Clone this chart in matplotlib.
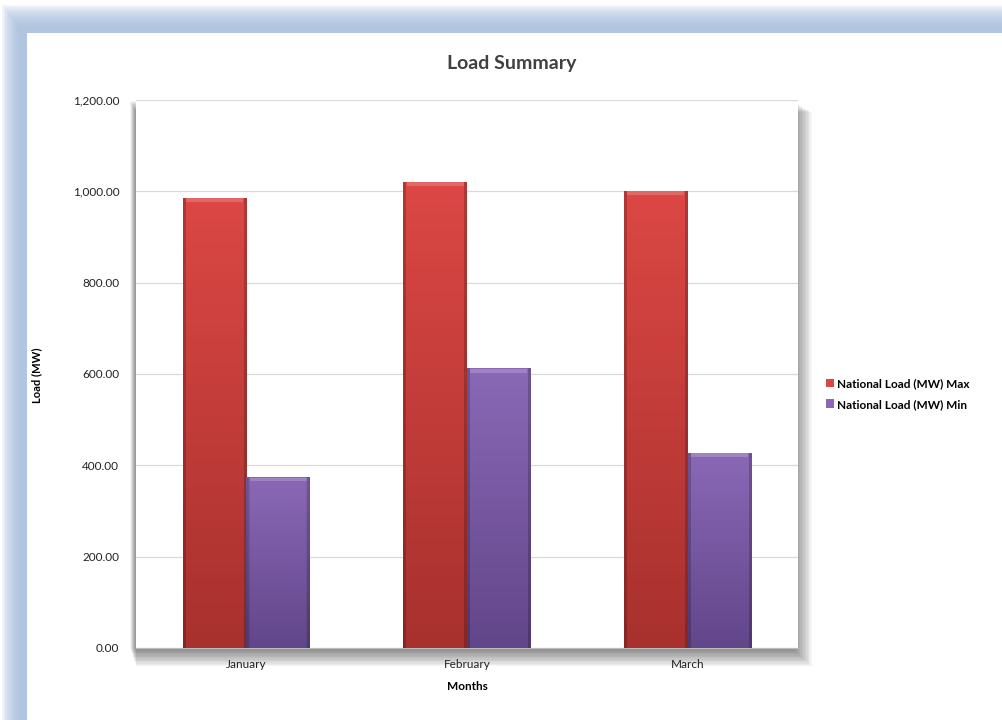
import numpy as np
import matplotlib.pyplot as plt
from matplotlib.patches import Rectangle

months = ["January", "February", "March"]
load_max = [985, 1020, 1000]
load_min = [373, 611, 426]
series_names = ["National Load (MW) Max", "National Load (MW) Min"]

plt.rcParams['font.family'] = ['Lato', 'DejaVu Sans']

W, H = 1003, 720
fig = plt.figure(figsize=(W / 100, H / 100), dpi=100)
fig.patch.set_facecolor("white")

# background frame: soft bluish border around a white card
bg = fig.add_axes([0, 0, 1, 1])
bg.set_xlim(0, W)
bg.set_ylim(H, 0)
bg.axis("off")
for i in range(12):
    bg.add_patch(Rectangle((2 + i * 1.6, 5 + i * 2.0), W, H, color="#a9c0de", alpha=0.16, lw=0))
bg.add_patch(Rectangle((27, 33), W, H, color="white", lw=0))

ax = fig.add_axes([136 / W, 1 - 648 / H, (798 - 136) / W, (648 - 100) / H])

# soft drop shadow behind the plot area
for k in range(14):
    off = 1 + k * 1.1
    bg.add_patch(Rectangle((136 - 6 + off * 0.4, 100 + off * 0.8), 662 + off * 0.9, 548 + off * 0.4,
                           color="black", alpha=0.04, lw=0, zorder=1))
bg.add_patch(Rectangle((136, 100), 662, 548, color="white", lw=0, zorder=2))
ax.set_zorder(3)
ax.patch.set_alpha(0)

x = np.arange(len(months))
bw = 0.288

def shade(c_top, c_bot, n=60):
    c_top = np.array(plt.matplotlib.colors.to_rgb(c_top))
    c_bot = np.array(plt.matplotlib.colors.to_rgb(c_bot))
    t = np.linspace(0, 1, n)[:, None, None]
    img = c_top * (1 - t) + c_bot * t
    img = np.repeat(img, 20, axis=1)
    edge = np.ones(20)
    edge[:1] = 0.8
    edge[-1:] = 0.8
    img = img * edge[None, :, None]
    return np.clip(img, 0, 1)

colors = [("#db4744", "#a8312e"), ("#8a68b6", "#62468a")]
for vals, off, (ct, cb), name in zip([load_max, load_min], [-bw / 2, bw / 2], colors, series_names):
    bars = ax.bar(x + off, vals, bw, color=ct, label=name, zorder=2)
    for b in bars:
        x0, w, h = b.get_x(), b.get_width(), b.get_height()
        ax.imshow(shade(ct, cb), extent=[x0, x0 + w, 0, h], aspect="auto", zorder=3)
        ax.fill_between([x0 + w * 0.05, x0 + w * 0.95], h - 8, h, color="white", alpha=0.18, zorder=4, lw=0)

ax.set_xlim(-0.5, 2.5)
ax.set_ylim(0, 1200)
ax.set_yticks(np.arange(0, 1201, 200))
ax.set_yticklabels([f"{v:,.2f}" for v in np.arange(0, 1201, 200)], fontsize=8.5, color="#222222")
ax.set_xticks(x)
ax.set_xticklabels(months, fontsize=8.5, color="#222222")
ax.tick_params(length=0, pad=12)
ax.tick_params(axis="x", pad=8)
ax.grid(axis="y", color="#d9d9d9", lw=0.9, zorder=0)
ax.set_axisbelow(True)
for s in ["top", "right", "left"]:
    ax.spines[s].set_visible(False)
ax.spines["bottom"].set_color("#bbbbbb")

ax.set_xlabel("Months", fontsize=8.5, fontweight="bold", labelpad=8)
fig.text(37 / W, 1 - 375 / H, "Load (MW)", rotation=90, fontsize=8, fontweight="bold",
         ha="center", va="center")
fig.text(512 / W, 1 - 63 / H, "Load Summary", fontsize=14, fontweight="bold",
         color="#404040", ha="center", va="center")

handles, labels = ax.get_legend_handles_labels()
fig.legend(handles, labels, loc="center left", bbox_to_anchor=(815 / W, 1 - 394 / H),
           frameon=False, handlelength=0.7, handleheight=0.7,
           handletextpad=0.3, labelspacing=0.8,
           prop={"weight": "bold", "size": 8.5})

fig.savefig("out.png", dpi=100)
